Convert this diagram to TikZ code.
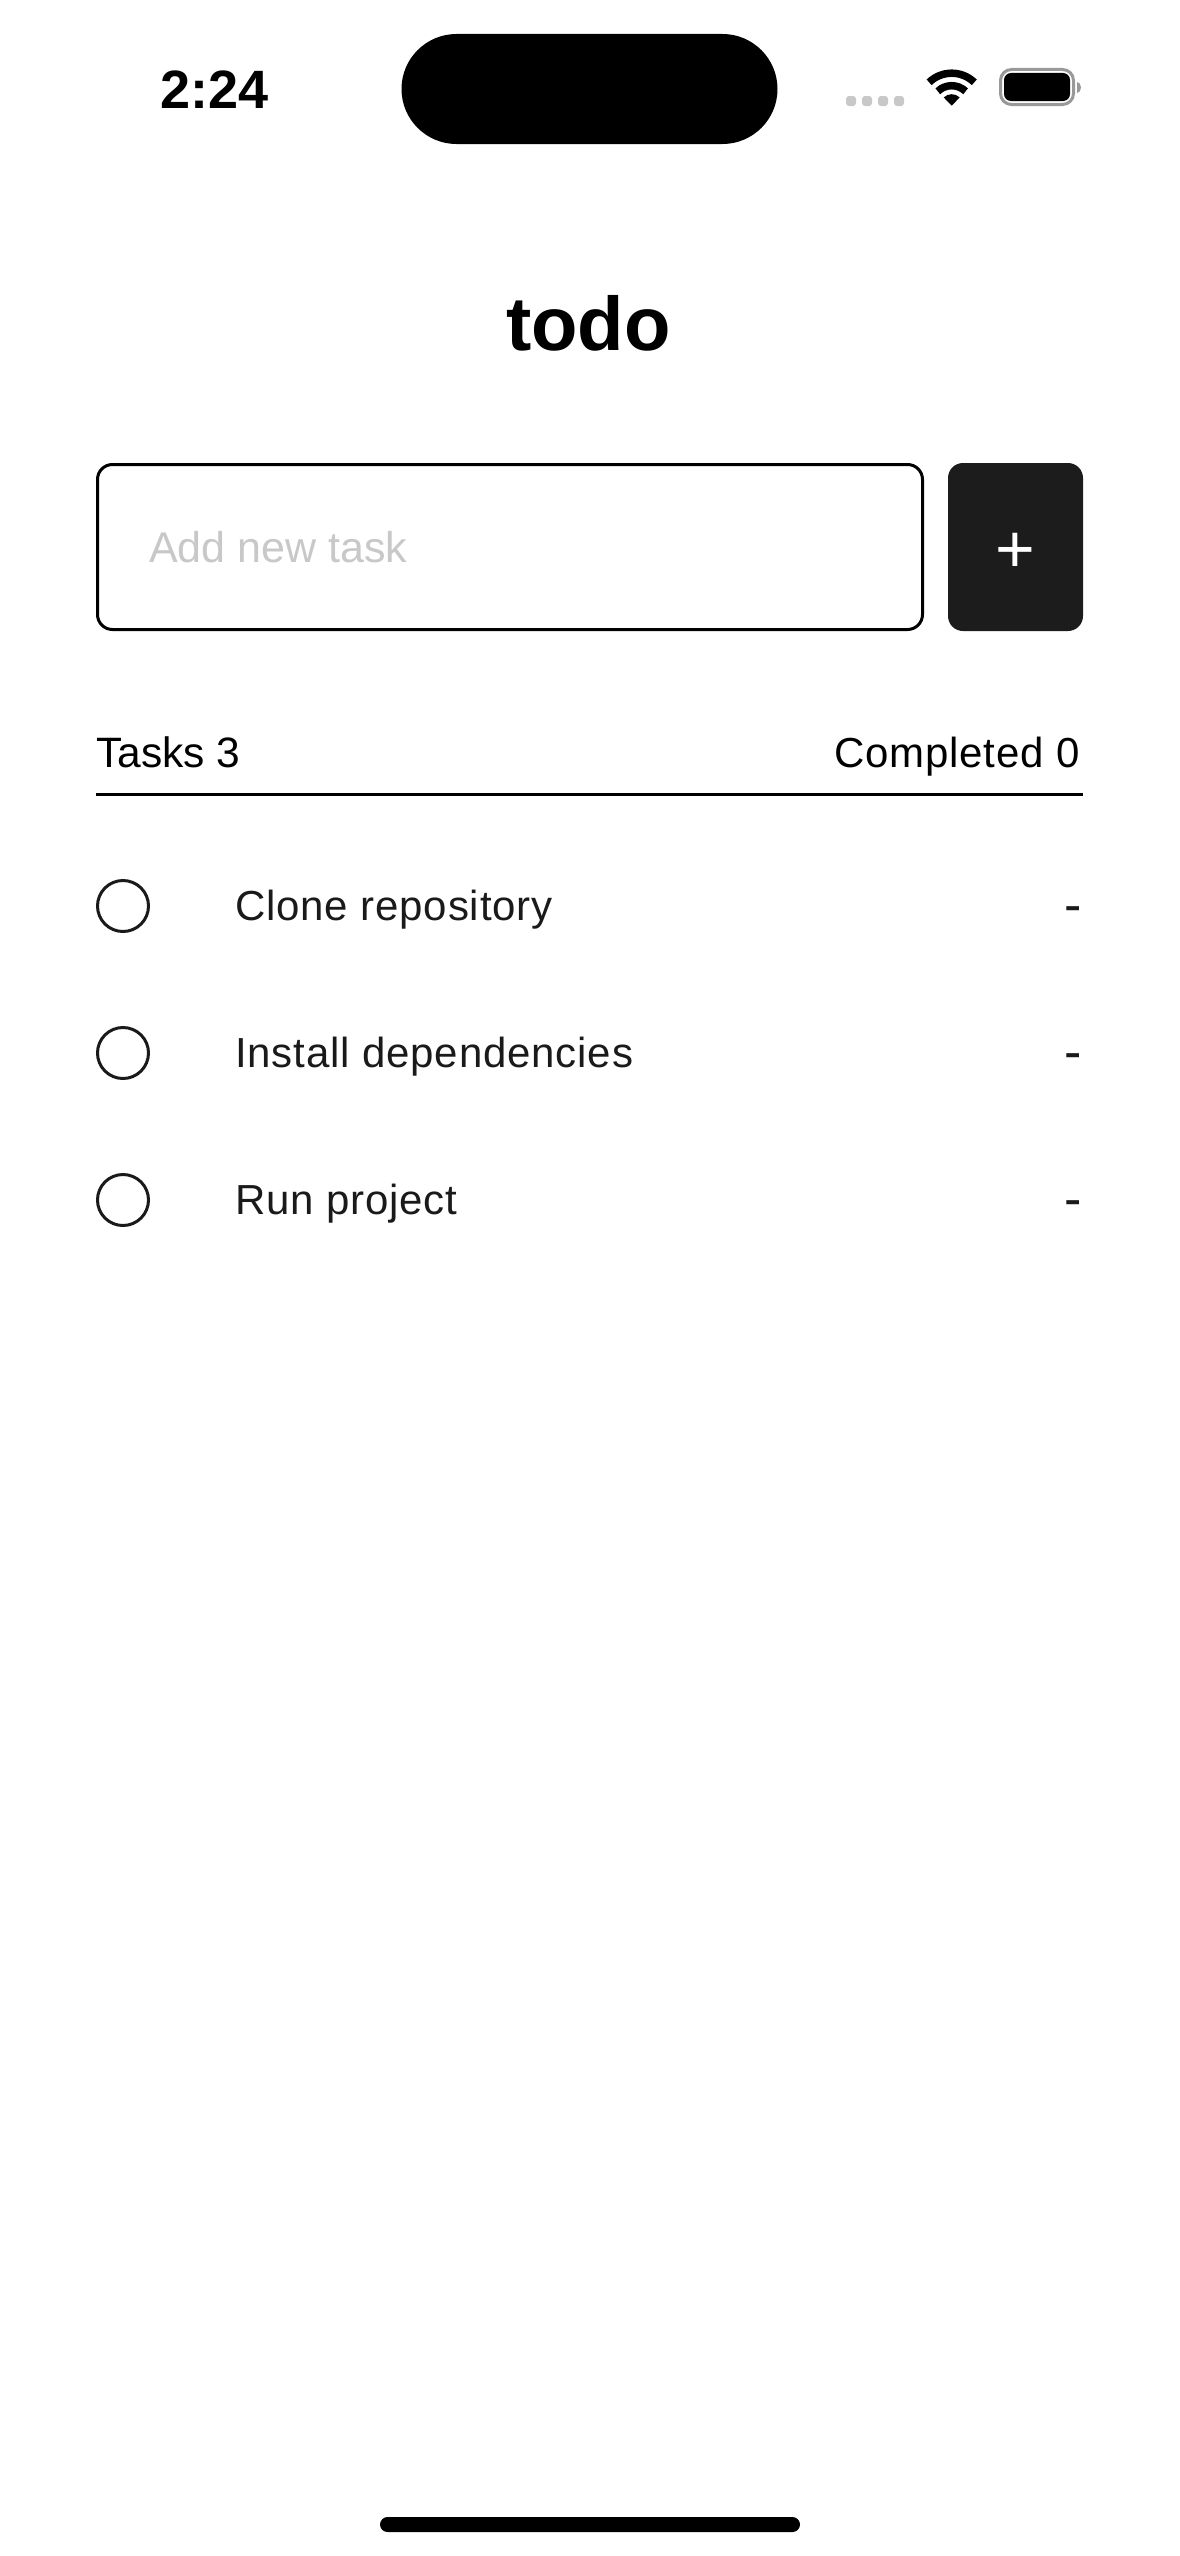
\documentclass[tikz,border=0pt]{standalone}
\usepackage{fontspec}
\setmainfont{Liberation Sans}
\newfontfamily\uifont[LetterSpace=2]{Liberation Sans}
\definecolor{inkdark}{HTML}{1A1A1A}
\definecolor{btndark}{HTML}{1C1C1C}
\definecolor{hintgray}{HTML}{C8C8C8}
\definecolor{batgray}{HTML}{999999}
\begin{document}
\begin{tikzpicture}
    [every node/.style={inner sep=0pt},
     rowtext/.style={anchor=base west, text=inkdark, font=\fontsize{42}{50}\selectfont\uifont},
     rowdash/.style={anchor=base east, text=inkdark, font=\fontsize{52}{60}\selectfont},
     rowcheck/.style={circle, minimum size=51pt, line width=3pt, draw=inkdark},
     sigdot/.style={rounded corners=3pt, minimum size=10pt, fill=hintgray}]
        \useasboundingbox (0pt, 0pt) rectangle (1179pt, -2556pt);
        \fill [white] (0pt, 0pt) rectangle (1179pt, -2556pt);
        % status bar
        \node (clock) [anchor=base, font=\fontsize{54}{60}\selectfont\bfseries] at (215pt, -108pt) {2:24};
        \node (island) [rectangle, rounded corners=55pt, minimum width=376pt, minimum height=110pt, fill=black] at (589.5pt, -89pt) {};
        \node (sig1) [sigdot] at (851pt, -101pt) {};
        \node (sig2) [sigdot] at (867pt, -101pt) {};
        \node (sig3) [sigdot] at (883pt, -101pt) {};
        \node (sig4) [sigdot] at (899pt, -101pt) {};
        \draw [line width=7.5pt, black] (951.7pt, -105.7pt) ++(46:32.5pt) arc (46:134:32.5pt);
        \draw [line width=7.5pt, black] (951.7pt, -105.7pt) ++(46:20pt) arc (46:134:20pt);
        \fill [black] (951.7pt, -105.7pt) -- ++(46:11.5pt) arc (46:134:11.5pt) -- cycle;
        \node (batshell) [rectangle, rounded corners=11pt, minimum width=73pt, minimum height=35pt, line width=3pt, draw=batgray] at (1037pt, -87pt) {};
        \node (batfill) [rectangle, rounded corners=7pt, minimum width=66pt, minimum height=28pt, fill=black] at (1037pt, -87pt) {};
        \fill [batgray] (1077pt, -82pt) arc (90:-90:4pt and 5.5pt) -- cycle;
        % title
        \node (title) [anchor=base, font=\fontsize{76}{84}\selectfont\bfseries] at (588.5pt, -350pt) {todo};
        % new task
        \node (taskbox) [rectangle, rounded corners=15pt, minimum width=825pt, minimum height=165pt, line width=3pt, draw=black] at (510pt, -547pt) {};
        \node (addbtn) [rectangle, rounded corners=15pt, minimum width=135pt, minimum height=168pt, fill=btndark] at (1015.5pt, -547pt) {};
        \node (taskhint) [anchor=base west, text=hintgray, font=\fontsize{43}{50}\selectfont] at (149pt, -562pt) {Add new task};
        \node (addplus) [text=white, font=\fontsize{68}{72}\selectfont] at (1015.5pt, -552.5pt) {+};
        % counters
        \node (tasks) [anchor=base west, font=\fontsize{42.5}{50}\selectfont] at (96pt, -767pt) {Tasks 3};
        \node (done) [anchor=base east, font=\fontsize{42}{50}\selectfont\uifont] at (1080pt, -767pt) {Completed 0};
        \coordinate (ruleL) at (96pt, -794pt);
        \coordinate (ruleR) at (1083pt, -794pt);
        \draw [line width=3pt, color=black] (ruleL) to (ruleR);
        % rows
        \node (check1) [rowcheck] at (123pt, -906pt) {};
        \node (label1) [rowtext] at (235pt, -920pt) {Clone repository};
        \node (dash1) [rowdash] at (1082pt, -922pt) {-};
        \node (check2) [rowcheck] at (123pt, -1053pt) {};
        \node (label2) [rowtext] at (235pt, -1067pt) {Install dependencies};
        \node (dash2) [rowdash] at (1082pt, -1069pt) {-};
        \node (check3) [rowcheck] at (123pt, -1200pt) {};
        \node (label3) [rowtext] at (235pt, -1214pt) {Run project};
        \node (dash3) [rowdash] at (1082pt, -1216pt) {-};
        % home bar
        \node (homebar) [rectangle, rounded corners=7.5pt, minimum width=420pt, minimum height=15pt, fill=black] at (590pt, -2524.5pt) {};
    \end{tikzpicture}
\end{document}
